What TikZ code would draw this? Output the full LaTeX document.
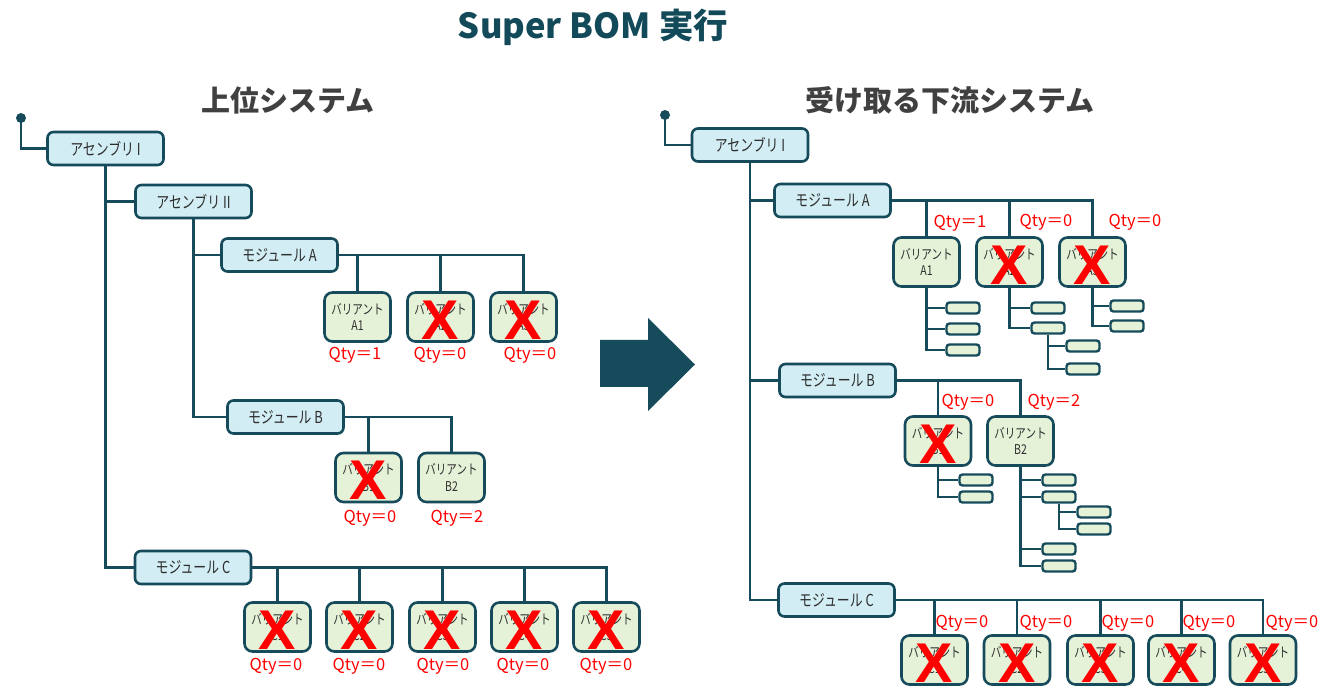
\documentclass[tikz,border=0pt]{standalone}
\usepackage{fontspec}
\newfontfamily\jp{Noto Sans CJK JP}
\newfontfamily\jpn{Noto Sans CJK JP}[FakeStretch=0.78]
\newfontfamily\xfont{Liberation Sans}
\definecolor{teal}{HTML}{164B5B}
\definecolor{lblue}{HTML}{D2EEF4}
\definecolor{lgreen}{HTML}{E6F2D8}
\definecolor{txt}{HTML}{2E2E2E}
\definecolor{head}{HTML}{404040}
\definecolor{ttl}{HTML}{134A5A}
\definecolor{qred}{HTML}{FF0000}
\tikzset{
 ln/.style={draw=teal, line width=2.6pt},
 blu/.style={draw=teal, fill=lblue, line width=2.6pt, rounded corners=6pt, minimum width=116pt, minimum height=33pt, inner sep=0pt, font=\jpn\fontsize{16.5}{18}\selectfont, text=txt},
 var/.style={draw=teal, fill=lgreen, line width=2.6pt, rounded corners=8pt, minimum width=66pt, minimum height=49pt, inner sep=0pt, align=center, font=\jpn\fontsize{13.5}{16.5}\selectfont, text=txt},
 sb/.style={draw=teal, fill=lgreen, line width=2.4pt, rounded corners=3pt, minimum width=33pt, minimum height=11pt, inner sep=0pt},
 qty/.style={text=qred, font=\jp\fontsize{16.5}{16.5}\selectfont, inner sep=0pt},
 xm/.style={text=qred, font=\xfont\bfseries\fontsize{56}{56}\selectfont, inner sep=0pt},
 hd/.style={text=head, font=\jp\bfseries\fontsize{29}{30}\selectfont, inner sep=0pt},
}
\begin{document}
\begin{tikzpicture}[x=1pt,y=-1pt]
\useasboundingbox (0,0) rectangle (1326,692);
% titles
\node[text=ttl, font=\jp\bfseries\fontsize{34.5}{36}\selectfont, inner sep=0pt] (title) at (593,27) {Super BOM 実行};
\node[hd] (hleft) at (288,100) {上位システム};
\node[hd] (hright) at (950,100) {受け取る下流システム};
% big arrow
\fill[teal] (600,340) -- (648,340) -- (648,318) -- (695,364.5) -- (648,411) -- (648,387) -- (600,387) -- cycle;

% ================= LEFT =================
\coordinate (rootL) at (21,118);
\node[blu] (asmL1) at (105.5,148.5) {アセンブリ I};
\node[blu] (asmL2) at (193.5,201.5) {アセンブリ II};
\node[blu] (modLA) at (279.5,255) {モジュール A};
\node[blu] (modLB) at (285.5,417) {モジュール B};
\node[blu] (modLC) at (193,567.5) {モジュール C};
\fill[teal] (rootL) circle (5pt);
\draw[ln] (rootL) |- (asmL1.west);
\draw[ln] (asmL1.south) |- (asmL2.west);
\draw[ln] (asmL1.south) |- (modLC.west);
\draw[ln] (asmL2.south) |- (modLA.west);
\draw[ln] (asmL2.south) |- (modLB.west);

\node[var] (vLA1) at (357.5,317) {バリアント\\A1};
\node[var] (vLA2) at (440.5,317) {バリアント\\A2};
\node[var] (vLA3) at (523.5,317) {バリアント\\A3};
\draw[ln] (modLA.east) -| (vLA1.north);
\draw[ln] (modLA.east) -| (vLA2.north);
\draw[ln] (modLA.east) -| (vLA3.north);
\node[qty] (qLA1) at (355,355) {Qty＝1};
\node[qty] (qLA2) at (440,355) {Qty＝0};
\node[qty] (qLA3) at (530,355) {Qty＝0};

\node[var] (vLB1) at (368.5,477.5) {バリアント\\B1};
\node[var] (vLB2) at (451.5,477.5) {バリアント\\B2};
\draw[ln] (modLB.east) -| (vLB1.north);
\draw[ln] (modLB.east) -| (vLB2.north);
\node[qty] (qLB1) at (370,518) {Qty＝0};
\node[qty] (qLB2) at (457,518) {Qty＝2};

\foreach \i/\x/\qx in {1/277.5/276,2/359.5/359,3/442.5/443,4/524.5/523,5/606.5/606}{
  \node[var] (vLC\i) at (\x,627) {バリアント\\C\i};
  \draw[ln] (modLC.east) -| (vLC\i.north);
  \node[qty] (qLC\i) at (\qx,666) {Qty＝0};
  \node[xm] (xLC\i) at ([yshift=-3pt]vLC\i.center) {X};
}
\node[xm] (xLA2) at ([yshift=-3pt]vLA2.center) {X};
\node[xm] (xLA3) at ([yshift=-3pt]vLA3.center) {X};
\node[xm] (xLB1) at ([yshift=-3pt]vLB1.center) {X};

% ================= RIGHT =================
\coordinate (rootR) at (665,115);
\node[blu] (asmR1) at (750,145) {アセンブリ I};
\node[blu] (modRA) at (832.5,200.5) {モジュール A};
\node[blu] (modRB) at (837.5,380.5) {モジュール B};
\node[blu] (modRC) at (836.5,600) {モジュール C};
\fill[teal] (rootR) circle (5pt);
\draw[ln] (rootR) |- (asmR1.west);
\draw[ln] (asmR1.south) |- (modRA.west);
\draw[ln] (asmR1.south) |- (modRB.west);
\draw[ln] (asmR1.south) |- (modRC.west);

% module A
\node[var] (vRA1) at (926.5,262) {バリアント\\A1};
\node[var] (vRA2) at (1009.5,262) {バリアント\\A2};
\node[var] (vRA3) at (1092.5,262) {バリアント\\A3};
\draw[ln] (modRA.east) -| (vRA1.north);
\draw[ln] (modRA.east) -| (vRA2.north);
\draw[ln] (modRA.east) -| (vRA3.north);
\node[qty] (qRA1) at (960,223) {Qty＝1};
\node[qty] (qRA2) at (1046,222) {Qty＝0};
\node[qty] (qRA3) at (1135,222) {Qty＝0};
\node[sb] (sA1a) at (963,308) {};
\node[sb] (sA1b) at (963,329) {};
\node[sb] (sA1c) at (963,350) {};
\foreach \s in {sA1a,sA1b,sA1c}{\draw[ln] (vRA1.south) |- (\s.west);}
\node[sb] (sA2a) at (1048,308) {};
\node[sb] (sA2b) at (1048,328) {};
\node[sb] (sA2c) at (1083,346) {};
\node[sb] (sA2d) at (1083,369) {};
\draw[ln] (vRA2.south) |- (sA2a.west);
\draw[ln] (vRA2.south) |- (sA2b.west);
\draw[ln] (sA2b.south) |- (sA2c.west);
\draw[ln] (sA2b.south) |- (sA2d.west);
\node[sb] (sA3a) at (1127,306) {};
\node[sb] (sA3b) at (1127,326) {};
\draw[ln] (vRA3.south) |- (sA3a.west);
\draw[ln] (vRA3.south) |- (sA3b.west);
\node[xm] (xRA2) at ([yshift=-3pt]vRA2.center) {X};
\node[xm] (xRA3) at ([yshift=-3pt]vRA3.center) {X};

% module B
\node[var] (vRB1) at (938,441) {バリアント\\B1};
\node[var] (vRB2) at (1020.5,441) {バリアント\\B2};
\draw[ln] (modRB.east) -| (vRB1.north);
\draw[ln] (modRB.east) -| (vRB2.north);
\node[qty] (qRB1) at (968,402) {Qty＝0};
\node[qty] (qRB2) at (1054,402) {Qty＝2};
\node[sb] (sB1a) at (976,480) {};
\node[sb] (sB1b) at (976,497) {};
\draw[ln] (vRB1.south) |- (sB1a.west);
\draw[ln] (vRB1.south) |- (sB1b.west);
\node[sb] (sB2a) at (1059,480) {};
\node[sb] (sB2b) at (1059,497) {};
\node[sb] (sB2c) at (1094,512) {};
\node[sb] (sB2d) at (1094,529) {};
\node[sb] (sB2e) at (1059,549) {};
\node[sb] (sB2f) at (1059,566) {};
\foreach \s in {sB2a,sB2b,sB2e,sB2f}{\draw[ln] (vRB2.south) |- (\s.west);}
\draw[ln] (sB2b.south) |- (sB2c.west);
\draw[ln] (sB2b.south) |- (sB2d.west);
\node[xm] (xRB1) at ([yshift=-3pt]vRB1.center) {X};

% module C
\foreach \i/\x/\qx in {1/934.5/962,2/1017/1046,3/1100.5/1128,4/1181.5/1209,5/1263/1292}{
  \node[var] (vRC\i) at (\x,660) {バリアント\\C\i};
  \draw[ln] (modRC.east) -| (vRC\i.north);
  \node[qty] (qRC\i) at (\qx,623) {Qty＝0};
  \node[xm] (xRC\i) at ([yshift=-3pt]vRC\i.center) {X};
}
\end{tikzpicture}
\end{document}
